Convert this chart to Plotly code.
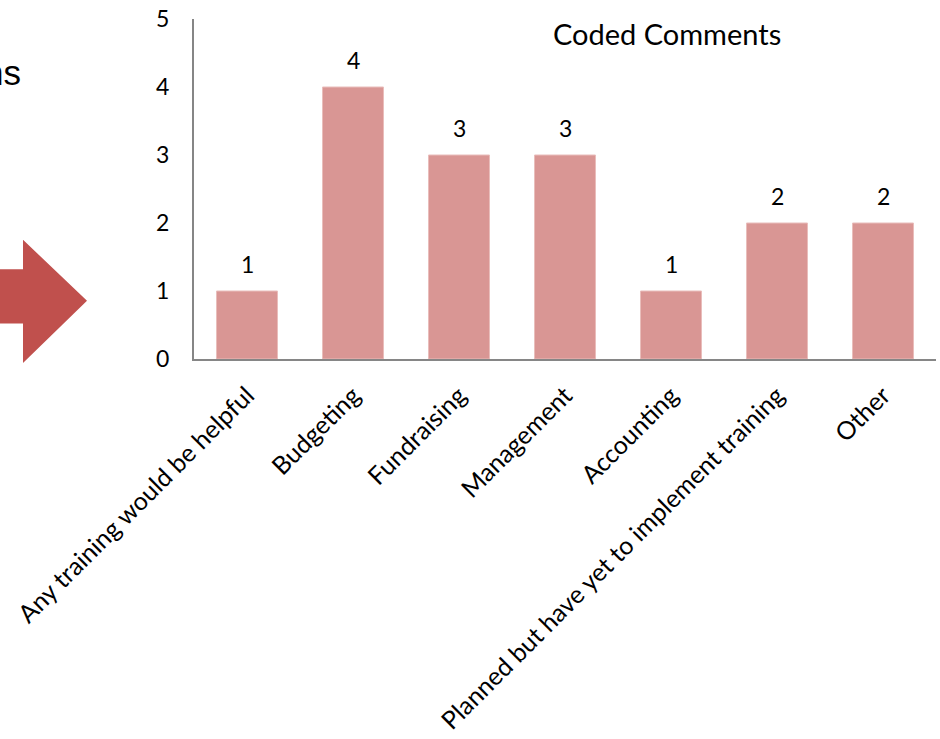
import plotly.graph_objects as go

# Coded comments: number of responses per training topic
categories = [
    "Any training would be helpful",
    "Budgeting",
    "Fundraising",
    "Management",
    "Accounting",
    "Planned but have yet to implement training",
    "Other",
]
counts = [1, 4, 3, 3, 1, 2, 2]
y_ticks = [0, 1, 2, 3, 4, 5]

W, H = 940, 739
ML, MR, MT, MB = 194, 4, 16, 378
PW, PH = W - ML - MR, H - MT - MB

FONT = "Lato, Carlito, Calibri, sans-serif"
BAR_COLOR = "#D99694"
AXIS_COLOR = "#868686"


def px_x(x):
    return (x - ML) / PW


def px_y(y):
    return (H - MB - y) / PH


fig = go.Figure(
    go.Bar(
        x=categories,
        y=counts,
        marker=dict(color=BAR_COLOR, line=dict(color="#E9BDBB", width=1)),
        hoverinfo="x+y",
    )
)

# value labels above each bar
for cat, val in zip(categories, counts):
    fig.add_annotation(
        x=cat, y=val, xref="x", yref="y",
        text=str(val), showarrow=False,
        yshift=27, font=dict(family=FONT, size=23, color="#000000"),
    )

# chart title
fig.add_annotation(
    x=px_x(667), y=px_y(31), xref="paper", yref="paper",
    text="Coded Comments", showarrow=False,
    xanchor="center", yanchor="middle",
    font=dict(family=FONT, size=29, color="#000000"),
)

# slide text running in from the left edge
fig.add_annotation(
    x=px_x(23), y=px_y(70), xref="paper", yref="paper",
    text="ns", showarrow=False, xanchor="right", yanchor="middle",
    font=dict(family="Liberation Sans, Arial, sans-serif", size=35, color="#000000"),
)

# block arrow pointing at the chart
arrow_pts = [(-5, 270), (23, 270), (23, 240), (87, 302), (23, 365), (23, 325), (-5, 325)]
path = "M " + " L ".join(f"{px_x(x):.5f},{px_y(y):.5f}" for x, y in arrow_pts) + " Z"
fig.add_shape(
    type="path", path=path, xref="paper", yref="paper",
    fillcolor="#C0504D", line=dict(width=0), layer="above",
)

fig.update_layout(
    width=W, height=H,
    margin=dict(l=ML, r=MR, t=MT, b=MB, pad=0),
    paper_bgcolor="#FFFFFF", plot_bgcolor="#FFFFFF",
    bargap=0.425,
    showlegend=False,
    font=dict(family=FONT, size=22, color="#000000"),
    xaxis=dict(
        showline=True, linecolor=AXIS_COLOR, linewidth=2,
        showgrid=False, zeroline=False, ticks="",
        tickangle=-45, tickfont=dict(family=FONT, size=25, color="#000000"),
        ticklabelstandoff=10,
    ),
    yaxis=dict(
        range=[0, 5], tickvals=y_ticks,
        showline=True, linecolor=AXIS_COLOR, linewidth=2,
        showgrid=False, zeroline=False, ticks="",
        tickfont=dict(family=FONT, size=23, color="#000000"),
        ticklabelstandoff=18,
    ),
)

fig.write_html("out.html")
